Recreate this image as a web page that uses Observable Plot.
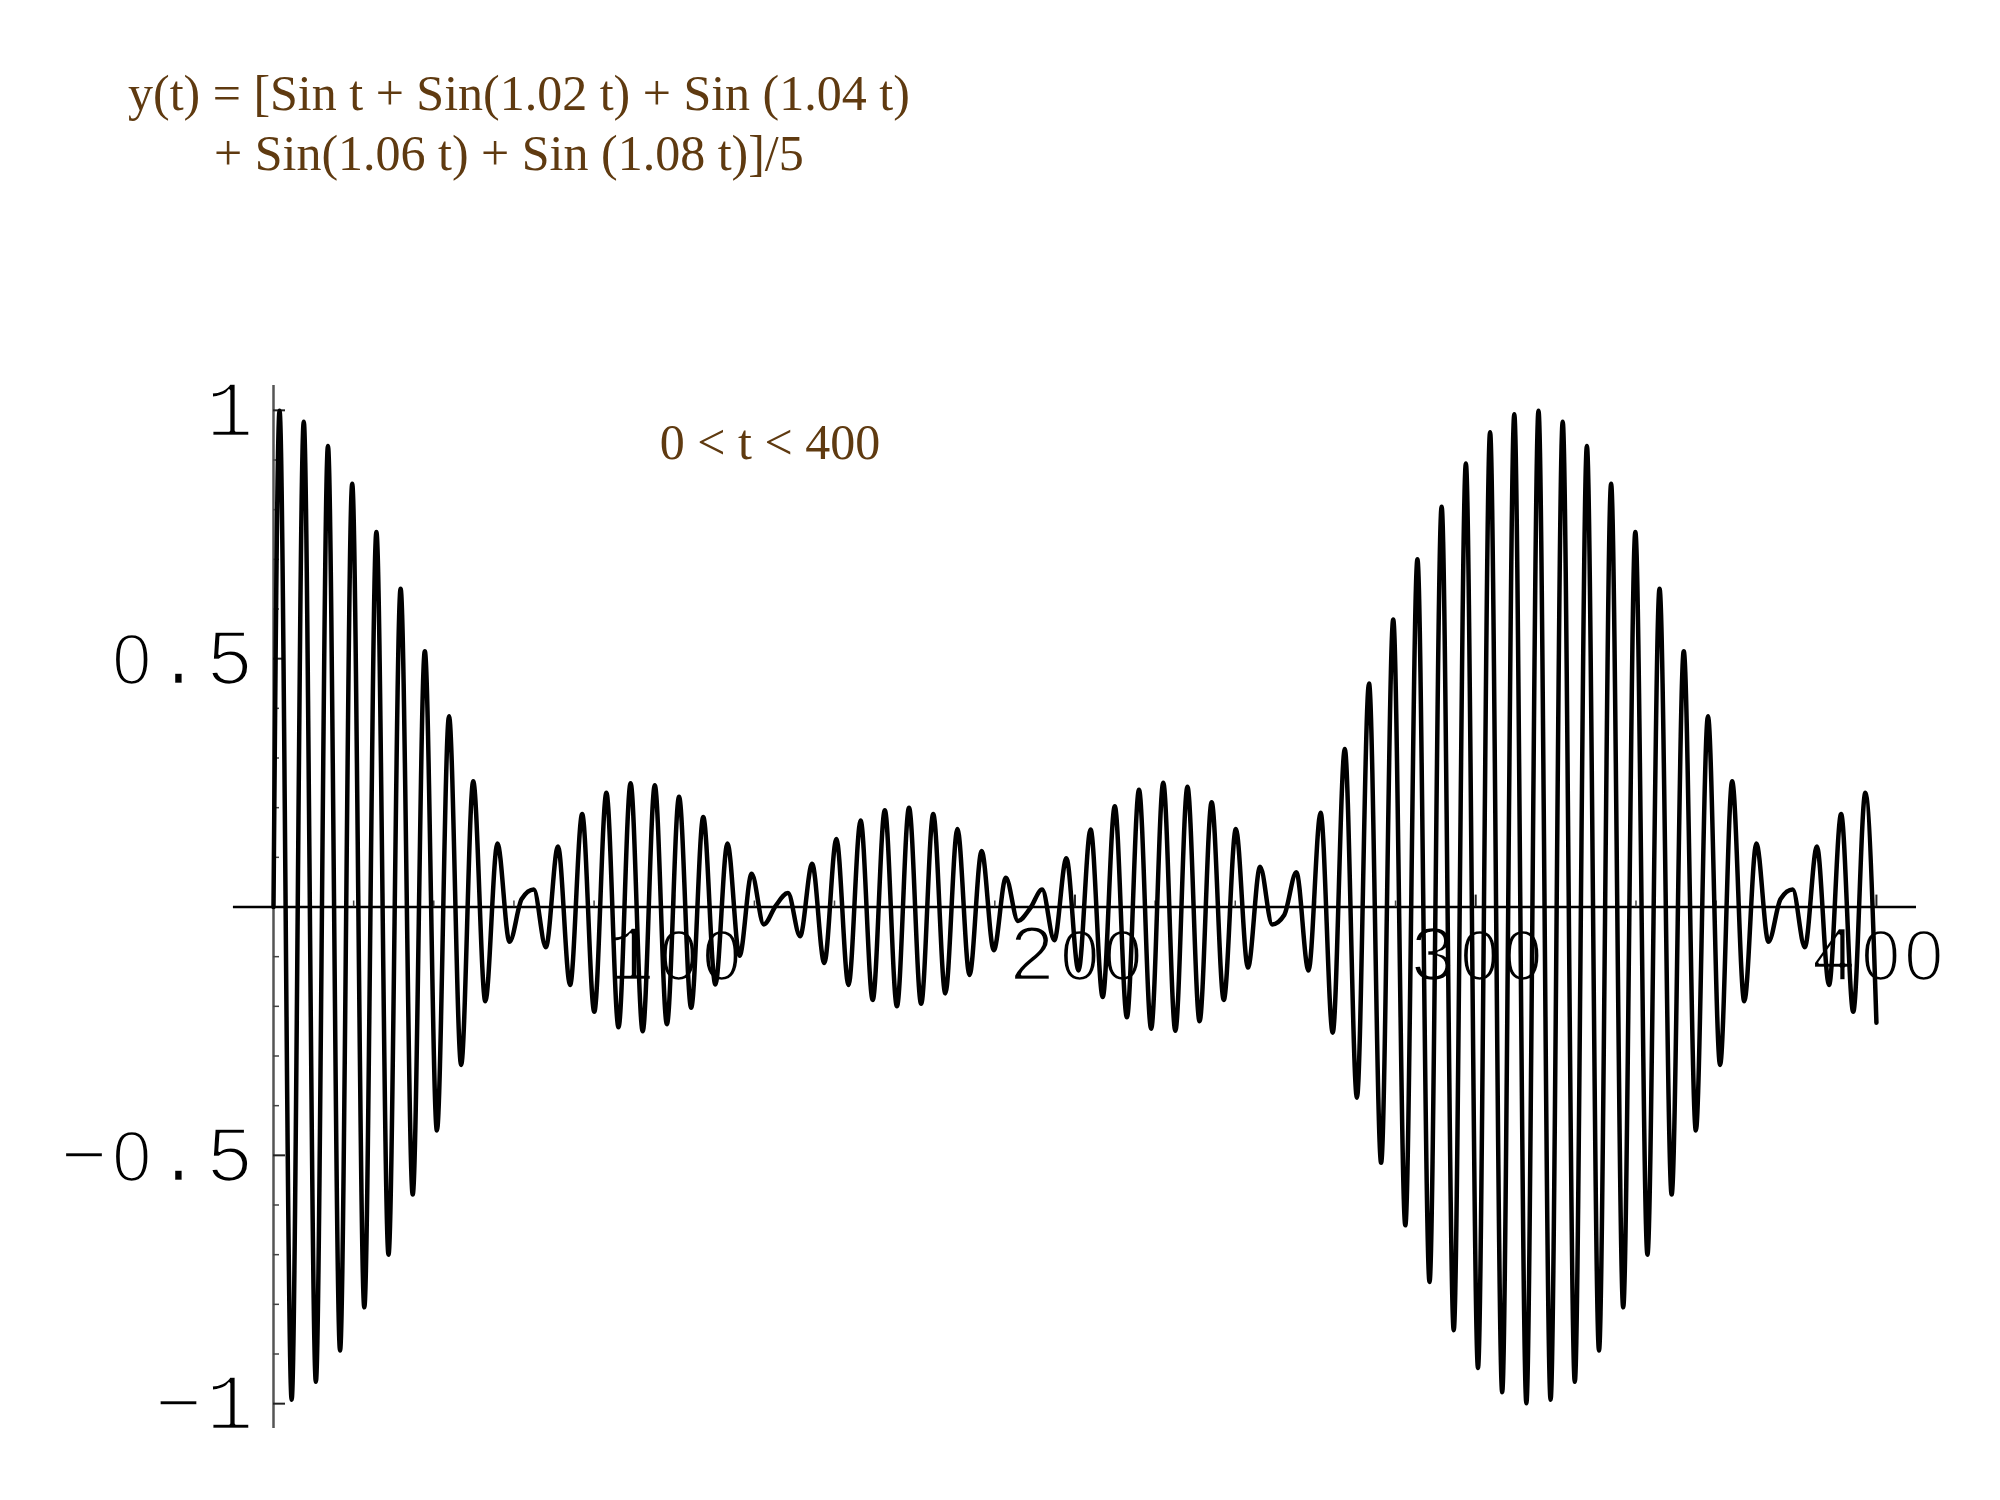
<!DOCTYPE html>
<html><head><meta charset="utf-8">
<script src="https://cdn.jsdelivr.net/npm/d3@7"></script>
<script src="https://cdn.jsdelivr.net/npm/@observablehq/plot@0.6"></script>
<style>
@font-face{font-family:"PlainZero";src:local("Liberation Sans"),local("LiberationSans");unicode-range:U+0030;size-adjust:90%;}
html,body{margin:0;padding:0;background:#fff;}
#wrap{width:2000px;height:1500px;position:relative;overflow:hidden;background:#fff;}
#title{position:relative;height:200px;font-family:"Liberation Serif","Times New Roman",serif;font-size:50px;color:#5f3a10;}
#title div{position:absolute;white-space:pre;line-height:60px;}
#chart svg{display:block;}
#chart g[font-family^="PlainZero"]{letter-spacing:4px;}
</style></head><body>
<div id="wrap">
<div id="title"><div id="l1" style="left:128px;top:63px"></div><div id="l2" style="left:214px;top:123px"></div></div>
<div id="chart"></div></div>
<script>
// Title lines
const titleLines = ["y(t) = [Sin t + Sin(1.02 t) + Sin (1.04 t)", "+ Sin(1.06 t) + Sin (1.08 t)]/5"];
const rangeNote = ["0 < t < 400"];

// Curve: successive extrema of the oscillation (t, y), with the end points
const tValues = [0, 1.51, 4.53, 7.55, 10.57, 13.59, 16.61, 19.64, 22.66, 25.68, 28.70, 31.72, 34.74, 37.76, 40.78, 43.80, 46.82, 49.84, 52.86, 55.88, 58.90, 61.93, 64.95, 67.97, 70.99, 74.01, 77.03, 80.05, 83.07, 86.09, 89.11, 92.13, 95.15, 98.17, 101.20, 104.22, 107.24, 110.26, 113.28, 116.30, 119.32, 122.34, 125.36, 128.38, 131.40, 134.42, 137.44, 140.47, 143.49, 146.51, 149.53, 152.55, 155.57, 158.59, 161.61, 164.63, 167.65, 170.67, 173.69, 176.71, 179.74, 182.76, 185.78, 188.80, 191.82, 194.84, 197.86, 200.88, 203.90, 206.92, 209.94, 212.96, 215.98, 219.01, 222.03, 225.05, 228.07, 231.09, 234.11, 237.13, 240.15, 243.17, 246.19, 249.21, 252.23, 255.25, 258.28, 261.30, 264.32, 267.34, 270.36, 273.38, 276.40, 279.42, 282.44, 285.46, 288.48, 291.50, 294.52, 297.55, 300.57, 303.59, 306.61, 309.63, 312.65, 315.67, 318.69, 321.71, 324.73, 327.75, 330.77, 333.79, 336.81, 339.84, 342.86, 345.88, 348.90, 351.92, 354.94, 357.96, 360.98, 364.00, 367.02, 370.04, 373.06, 376.08, 379.11, 382.13, 385.15, 388.17, 391.19, 394.21, 397.23, 400];
const yValues = [0,
  0.999, -0.992, 0.977, -0.956, 0.928, -0.893, 0.852, -0.806, 0.755, -0.700,
  0.641, -0.579, 0.515, -0.450, 0.384, -0.318, 0.253, -0.190, 0.128, -0.070,
  0.016, 0.035, -0.081, 0.122, -0.157, 0.187, -0.211, 0.230, -0.242, 0.249,
  -0.250, 0.245, -0.236, 0.222, -0.203, 0.181, -0.156, 0.128, -0.098, 0.067,
  -0.035, 0.003, 0.028, -0.059, 0.087, -0.113, 0.137, -0.157, 0.174, -0.187,
  0.195, -0.200, 0.200, -0.195, 0.187, -0.174, 0.157, -0.137, 0.113, -0.087,
  0.059, -0.028, -0.003, 0.035, -0.067, 0.098, -0.128, 0.156, -0.181, 0.203,
  -0.222, 0.236, -0.245, 0.250, -0.249, 0.242, -0.230, 0.211, -0.187, 0.157,
  -0.122, 0.081, -0.035, -0.016, 0.070, -0.128, 0.190, -0.253, 0.318, -0.384,
  0.450, -0.515, 0.579, -0.641, 0.700, -0.755, 0.806, -0.852, 0.893, -0.928,
  0.956, -0.977, 0.992, -0.999, 0.999, -0.992, 0.977, -0.956, 0.928, -0.893,
  0.852, -0.806, 0.755, -0.700, 0.641, -0.579, 0.515, -0.450, 0.384, -0.318,
  0.253, -0.190, 0.128, -0.070, 0.016, 0.035, -0.081, 0.122, -0.157, 0.187,
  -0.211, 0.230,
  -0.233];

// Axes ticks
const xMajorTicks = [100, 200, 300, 400];
const xTickLabels = ["100", "200", "300", "400"];
const xMinorTicks = [20, 40, 60, 80, 120, 140, 160, 180, 220, 240, 260, 280, 320, 340, 360, 380];
const yMajorTicks = [1, 0.5, -0.5, -1];
const yTickLabels = ["1", "0.5", "\u22120.5", "\u22121"];
const yMinorTicks = [0.9, 0.8, 0.7, 0.6, 0.4, 0.3, 0.2, 0.1, -0.1, -0.2, -0.3, -0.4, -0.6, -0.7, -0.8, -0.9];

document.getElementById("l1").textContent = titleLines[0];
document.getElementById("l2").textContent = titleLines[1];

const xDomain = [0, 410];
const xAxisExtent = [-10, 410];
const yDomain = [-1.05, 1.05];
const idx = tValues.map((_, i) => i);
const mono = "PlainZero, 'Liberation Mono', 'Courier New', monospace";
const labelStyle = {fontFamily: mono, fontSize: 79, fill: "#000", stroke: "#fff", strokeWidth: 2.6, paintOrder: "fill"};

const chart = Plot.plot({
  width: 2000, height: 1300,
  marginLeft: 273, marginRight: 84, marginTop: 185, marginBottom: 72,
  x: {domain: xDomain, axis: null},
  y: {domain: yDomain, axis: null},
  style: {background: "white", overflow: "visible"},
  marks: [
    Plot.ruleY([0], {x1: xAxisExtent[0], x2: xAxisExtent[1], stroke: "#000", strokeWidth: 2.5}),
    Plot.text(yMajorTicks, {x: 0, y: d => d, text: (d, i) => yTickLabels[i], dx: -16, textAnchor: "end", lineAnchor: "middle", ...labelStyle}),
    Plot.text(xMajorTicks, {x: d => d, y: 0, text: (d, i) => xTickLabels[i], dx: 2, dy: 48, textAnchor: "middle", lineAnchor: "middle", ...labelStyle}),
    Plot.ruleX([0], {y1: yDomain[0], y2: yDomain[1], stroke: "#555", strokeWidth: 2.5}),
    Plot.ruleY(yMinorTicks, {y: d => d, x1: 0, x2: 1.5, stroke: "#444", strokeWidth: 1.5}),
    Plot.ruleY(yMajorTicks, {y: d => d, x1: 0, x2: 3, stroke: "#222", strokeWidth: 2}),
    Plot.ruleX(xMinorTicks, {x: d => d, y1: 0, y2: 0.012, stroke: "#444", strokeWidth: 1.5}),
    Plot.ruleX(xMajorTicks, {x: d => d, y1: 0, y2: 0.024, stroke: "#222", strokeWidth: 2}),
    Plot.line(idx, {x: i => tValues[i], y: i => yValues[i], curve: "monotone-x", stroke: "#000", strokeWidth: 4.5}),
    Plot.text(rangeNote, {text: d => d, frameAnchor: "top", dx: -325, dy: 57, textAnchor: "middle", lineAnchor: "middle", fontFamily: "'Liberation Serif', 'Times New Roman', serif", fontSize: 50, fill: "#5f3a10"})
  ]
});
document.getElementById("chart").appendChild(chart);
</script>
</body></html>
